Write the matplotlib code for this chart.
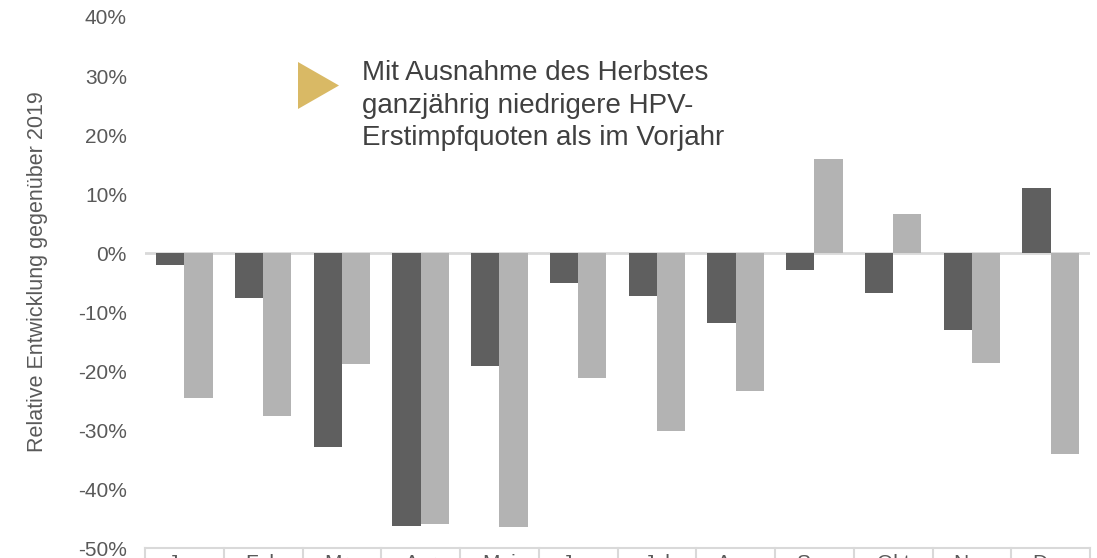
import numpy as np
import matplotlib
matplotlib.use("Agg")
import matplotlib.pyplot as plt
from matplotlib.patches import Polygon
from matplotlib.ticker import FuncFormatter

plt.rcParams['font.family'] = ['Liberation Sans', 'DejaVu Sans']

# data (relative change vs 2019, %)
months = ["Jan", "Feb", "Mrz", "Apr", "Mai", "Jun", "Jul", "Aug", "Sep", "Okt", "Nov", "Dez"]
series_dark = [-2.0, -7.7, -32.8, -46.2, -19.1, -5.0, -7.3, -11.9, -2.8, -6.7, -13.1, 11.1]
series_light = [-24.5, -27.6, -18.8, -46.0, -46.4, -21.2, -30.1, -23.4, 15.9, 6.6, -18.6, -34.1]
yticks = [-50, -40, -30, -20, -10, 0, 10, 20, 30, 40]

W, H = 1097, 558
fig = plt.figure(figsize=(W/100, H/100), dpi=100)
ax = fig.add_axes([145/W, 1-548/H, (1090-145)/W, (548-17)/H])

x = np.arange(len(months))
bw = 0.36
ax.bar(x - bw/2, series_dark, bw, color='#5f5f5f', zorder=3)
ax.bar(x + bw/2, series_light, bw, color='#b3b3b3', zorder=3)

ax.set_xlim(-0.5, len(months) - 0.5)
ax.set_ylim(-50, 40)
ax.set_yticks(yticks)
ax.yaxis.set_major_formatter(FuncFormatter(lambda v, p: f'{v:.0f}%'))
ax.set_xticks(x)
ax.set_xticklabels(months)
ax.tick_params(axis='y', length=0, pad=13, labelsize=15, labelcolor='#595959')
ax.tick_params(axis='x', length=0, pad=4.5, labelsize=15, labelcolor='#595959')

for s in ['top', 'right', 'left']:
    ax.spines[s].set_visible(False)
ax.spines['bottom'].set_color('#d9d9d9')
ax.spines['bottom'].set_linewidth(1.5)
ax.axhline(0, color='#d9d9d9', lw=2, zorder=2)

# category separators below the axis
trans = ax.get_xaxis_transform()
for b in np.arange(-0.5, len(months), 1.0):
    ax.plot([b, b], [0, -0.05], color='#d9d9d9', lw=1.5, transform=trans, clip_on=False)

fig.text(38/W, 1-272/H, 'Relative Entwicklung gegenüber 2019', rotation=90,
         ha='center', va='center', fontsize=15.5, color='#595959')

# annotation arrow + text
tri = Polygon([[298/W, 1-62/H], [298/W, 1-109/H], [339/W, 1-85.5/H]], closed=True,
              transform=fig.transFigure, facecolor='#d9b965', edgecolor='none')
fig.patches.append(tri)
fig.text(362/W, 1-60/H, 'Mit Ausnahme des Herbstes\nganzjährig niedrigere HPV-\nErstimpfquoten als im Vorjahr',
         ha='left', va='top', fontsize=20, color='#404040', linespacing=1.33)

fig.savefig('out.png', dpi=100)
